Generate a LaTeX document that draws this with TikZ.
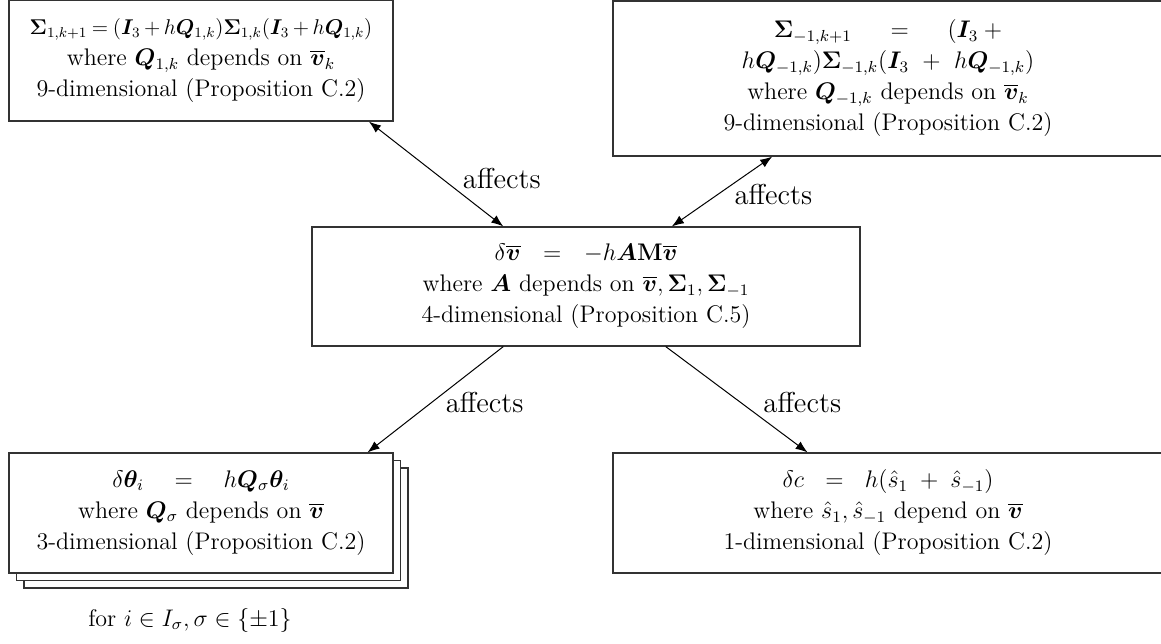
\documentclass[tikz,border=0pt,12pt]{standalone}
\usepackage{amsmath,bm,graphicx}
\usetikzlibrary{arrows.meta}
\begin{document}
\begin{tikzpicture}[x=0.5pt,y=-0.5pt,
  box/.style={draw=black!80, line width=0.6pt, fill=white, align=center, inner sep=0pt,
    font=\fontsize{12}{15.5}\selectfont},
  lbl/.style={font=\fontsize{14.4}{17}\selectfont, inner sep=0pt},
  note/.style={font=\fontsize{12}{15}\selectfont, inner sep=0pt},
  conn/.style={{Latex[length=6pt,width=4.5pt]}-{Latex[length=6pt,width=4.5pt]}, line width=0.5pt},
  oneway/.style={-{Latex[length=6pt,width=4.5pt]}, line width=0.5pt}]
\useasboundingbox (0,0) rectangle (1161,643);
% top left
\node[box, minimum width=192pt, minimum height=60.5pt] (tl) at (201,60.5)
  {\scalebox{0.89}{$\medmuskip=3mu\thickmuskip=4mu
    \bm{\Sigma}_{1,k+1} = (\bm{I}_3 + h\bm{Q}_{1,k})\bm{\Sigma}_{1,k}(\bm{I}_3 + h\bm{Q}_{1,k})$}\\
   where $\bm{Q}_{1,k}$ depends on $\overline{\bm{v}}_k$\\
   9-dimensional (Proposition C.2)};
% top right
\node[box, minimum width=275pt, minimum height=77.5pt] (tr) at (888,78.5)
  {$\bm{\Sigma}_{-1,k+1} \mkern24mu = \mkern24mu (\bm{I}_3 \mkern4mu +$\\
   $h\bm{Q}_{-1,k})\bm{\Sigma}_{-1,k}(\bm{I}_3 \mkern6mu +\mkern6mu h\bm{Q}_{-1,k})$\\
   where $\bm{Q}_{-1,k}$ depends on $\overline{\bm{v}}_k$\\
   9-dimensional (Proposition C.2)};
% middle
\node[box, minimum width=274pt, minimum height=59.5pt] (mid) at (586,286.5)
  {$\delta\overline{\bm{v}} \mkern12mu = \mkern12mu -h\bm{A}\mathbf{M}\overline{\bm{v}}$\\
   where $\bm{A}$ depends on $\overline{\bm{v}}, \bm{\Sigma}_1, \bm{\Sigma}_{-1}$\\
   4-dimensional (Proposition C.5)};
% bottom left (stacked)
\node[box, minimum width=192pt, minimum height=60pt] (bl3) at (216,528) {};
\node[box, minimum width=192pt, minimum height=60pt] (bl2) at (208.5,520.5) {};
\node[box, minimum width=192pt, minimum height=60pt] (bl) at (201,513)
  {$\delta\bm{\theta}_i \quad = \quad h\bm{Q}_\sigma\bm{\theta}_i$\\
   where $\bm{Q}_\sigma$ depends on $\overline{\bm{v}}$\\
   3-dimensional (Proposition C.2)};
% bottom right
\node[box, minimum width=275pt, minimum height=60pt] (br) at (888,513)
  {$\delta c \mkern11mu = \mkern11mu h(\hat{s}_1 \mkern5mu + \mkern5mu \hat{s}_{-1})$\\
   where $\hat{s}_1, \hat{s}_{-1}$ depend on $\overline{\bm{v}}$\\
   1-dimensional (Proposition C.2)};
\node[note] (forall) at (190,620) {for $i\in I_\sigma, \sigma\in\{\pm1\}$};
% connectors
\draw[conn] (tl.-20) -- node[lbl, pos=0.54, anchor=west, xshift=10.5pt]{affects} (mid.144);
\draw[conn] (tr.214) -- node[lbl, pos=0.54, anchor=west, xshift=8pt]{affects} (mid.35);
\draw[oneway] (mid.216) -- node[lbl, pos=0.53, anchor=west, xshift=7pt]{affects} (bl.20);
\draw[oneway] (mid.-37) -- node[lbl, pos=0.53, anchor=west, xshift=11pt]{affects} (br.143);
\end{tikzpicture}
\end{document}
